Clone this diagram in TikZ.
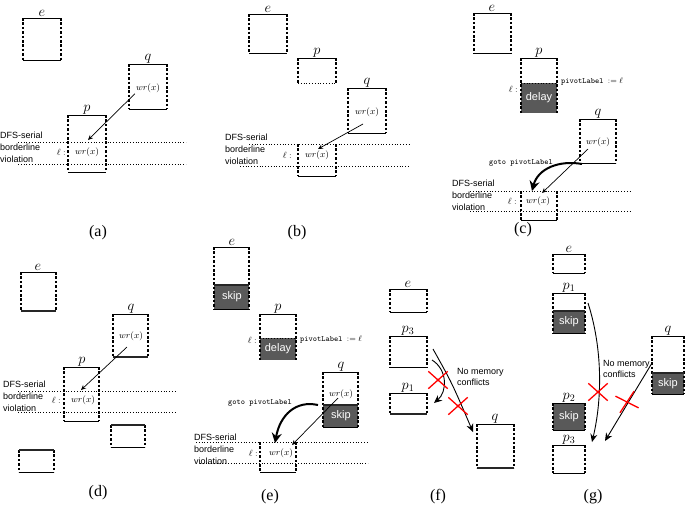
\documentclass[tikz,border=0pt]{standalone}
\usepackage{fontspec}
\setmainfont{Liberation Serif}
\setsansfont{Liberation Sans}
\usetikzlibrary{arrows.meta,shapes.misc}

\begin{document}
\begin{tikzpicture}[x=1pt, y=-1pt,
    rim/.style={line width=0.8pt},
    wall/.style={line width=1.4pt, dash pattern=on 2.6pt off 1.8pt},
    heavy/.style={line width=2pt, black!85},
    border/.style={line width=0.8pt, dash pattern=on 0.8pt off 2pt},
    graybox/.style={fill=black!65},
    proc/.style={font=\Large, inner sep=1pt},
    op/.style={font=\small, inner sep=1pt},
    note/.style={font=\sffamily\fontsize{9}{12}\selectfont, align=left, anchor=west, inner sep=0pt},
    tag/.style={font=\sffamily\fontsize{11}{13}\selectfont, text=white, inner sep=0pt},
    code/.style={font=\ttfamily\footnotesize, inner sep=1pt},
    sublabel/.style={font=\fontsize{16}{18}\selectfont},
    arr/.style={-{Stealth[length=5pt,width=4.5pt]}, line width=0.7pt},
    arrbig/.style={-{Stealth[length=8pt,width=7pt]}, line width=0.9pt},
    jump/.style={-{Stealth[length=10pt,width=10pt]}, line width=2pt},
    nogo/.style={draw=red, cross out, line width=1.3pt, minimum width=18pt, minimum height=16pt, inner sep=0pt}]

    \useasboundingbox (0,0) rectangle (685,504);

    % (a)
    \draw[wall] (23,18) -- (23,60) (61,18) -- (61,60);
    \draw[rim] (23,18) -- (61,18) (23,60) -- (61,60);
    \node[proc, above] (ea) at (42,18) {$e$};
    \draw[wall] (129,64) -- (129,109) (167,64) -- (167,109);
    \draw[rim] (129,64) -- (167,64) (129,109) -- (167,109);
    \node[proc, above] (qa) at (148,64) {$q$};
    \node[op] (wqa) at (148,88) {$wr(x)$};
    \draw[wall] (68,115) -- (68,172) (106,115) -- (106,172);
    \draw[rim] (68,115) -- (106,115) (68,172) -- (106,172);
    \node[proc, above] (pa) at (87,115) {$p$};
    \draw[border] (18,142) -- (186,142) (18,164) -- (186,164);
    \node[note] (va) at (0,147) {DFS-serial\\borderline\\violation};
    \node[op, anchor=east] (la) at (67,152) {$\ell:$};
    \node[op] (wpa) at (87,152) {$wr(x)$};
    \coordinate (ta) at (88,140);
    \draw[arr] (wqa.south west) -- (ta);
    \node[sublabel] (capa) at (98,233) {(a)};

    % (b)
    \draw[wall] (249,14) -- (249,53) (287,14) -- (287,53);
    \draw[rim] (249,14) -- (287,14) (249,53) -- (287,53);
    \node[proc, above] (eb) at (268,14) {$e$};
    \draw[wall] (298,58) -- (298,83) (336,58) -- (336,83);
    \draw[rim] (298,58) -- (336,58);
    \draw[border] (298,83) -- (336,83);
    \node[proc, above] (pb) at (317,58) {$p$};
    \draw[wall] (348,88) -- (348,133) (386,88) -- (386,133);
    \draw[rim] (348,88) -- (386,88) (348,133) -- (386,133);
    \node[proc, above] (qb) at (367,88) {$q$};
    \node[op] (wqb) at (367,112) {$wr(x)$};
    \draw[wall] (298,144) -- (298,176) (336,144) -- (336,176);
    \draw[rim] (298,176) -- (336,176);
    \draw[border] (249,144) -- (410,144) (240,166) -- (410,166);
    \node[note] (vb) at (225,149) {DFS-serial\\borderline\\violation};
    \node[op, anchor=east] (lb) at (293,155) {$\ell:$};
    \node[op] (wpb) at (317,155) {$wr(x)$};
    \coordinate (sb) at (363,124);
    \coordinate (tb) at (318,149);
    \draw[arr] (sb) -- (tb);
    \node[sublabel] (capb) at (297,233) {(b)};

    % (c)
    \draw[wall] (474,13) -- (474,53) (511,13) -- (511,53);
    \draw[rim] (474,13) -- (511,13) (474,53) -- (511,53);
    \node[proc, above] (ec) at (492,13) {$e$};
    \fill[graybox] (521,83) rectangle (557,113);
    \draw[wall] (521,58) -- (521,113) (557,58) -- (557,113);
    \draw[rim] (521,58) -- (557,58);
    \draw[border] (521,83) -- (557,83);
    \node[proc, above] (pc) at (539,58) {$p$};
    \node[tag] (dc) at (539,98) {delay};
    \node[op, anchor=east] (lc) at (519,89) {$\ell:$};
    \node[code, anchor=west] (plc) at (560,82) {pivotLabel $:=\ell$};
    \draw[wall] (580,119) -- (580,163) (616,119) -- (616,163);
    \draw[rim] (580,119) -- (616,119) (580,163) -- (616,163);
    \node[proc, above] (qc) at (598,119) {$q$};
    \node[op] (wqc) at (598,142) {$wr(x)$};
    \node[code] (gc) at (521,163) {goto pivotLabel};
    \coordinate (sc) at (582,164);
    \coordinate (tc) at (532,191);
    \draw[jump] (sc) .. controls (560,160) and (538,168) .. (tc);
    \coordinate (sc2) at (588,149);
    \coordinate (tc2) at (542,193);
    \draw[arr] (sc2) -- (tc2);
    \draw[wall] (521,191) -- (521,220) (557,191) -- (557,220);
    \draw[rim] (521,220) -- (557,220);
    \draw[border] (470,191) -- (630,191) (470,211) -- (630,211);
    \node[note] (vc) at (452,195) {DFS-serial\\borderline\\violation};
    \node[op, anchor=east] (lc2) at (518,201) {$\ell:$};
    \node[op] (wpc) at (538,201) {$wr(x)$};
    \node[sublabel] (capc) at (523,230) {(c)};

    % (d)
    \draw[wall] (21,272) -- (21,311) (56,272) -- (56,311);
    \draw[rim] (21,272) -- (56,272);
    \draw[heavy] (21,311) -- (56,311);
    \node[proc, above] (ed) at (38,272) {$e$};
    \draw[wall] (113,314) -- (113,357) (148,314) -- (148,357);
    \draw[rim] (113,314) -- (148,314);
    \draw[heavy] (113,357) -- (148,357);
    \node[proc, above] (qd) at (131,314) {$q$};
    \node[op] (wqd) at (131,336) {$wr(x)$};
    \draw[wall] (64,367) -- (64,421) (99,367) -- (99,421);
    \draw[rim] (64,367) -- (99,367) (64,421) -- (99,421);
    \node[proc, above] (pd) at (82,367) {$p$};
    \draw[border] (18,391) -- (176,391) (18,412) -- (176,412);
    \node[note] (vd) at (3,396) {DFS-serial\\borderline\\violation};
    \node[op, anchor=east] (ld) at (62,400) {$\ell:$};
    \node[op] (wpd) at (83,400) {$wr(x)$};
    \coordinate (sd) at (127,347);
    \coordinate (td) at (81,390);
    \draw[arr] (sd) -- (td);
    \draw[wall] (111,425) -- (111,447) (145,425) -- (145,447);
    \draw[heavy] (111,425) -- (145,425);
    \draw[rim] (111,447) -- (145,447);
    \draw[wall] (19,450) -- (19,472) (54,450) -- (54,472);
    \draw[heavy] (19,450) -- (54,450);
    \draw[rim] (19,472) -- (54,472);
    \node[sublabel] (capd) at (98,493) {(d)};

    % (e)
    \fill[graybox] (214,285) rectangle (249,309);
    \draw[wall] (214,247) -- (214,309) (249,247) -- (249,309);
    \draw[rim] (214,247) -- (249,247) (214,309) -- (249,309);
    \draw[heavy] (214,285) -- (249,285);
    \node[proc, above] (ee) at (232,247) {$e$};
    \node[tag] (ske) at (232,297) {skip};
    \fill[graybox] (260,338) rectangle (296,360);
    \draw[wall] (260,314) -- (260,360) (296,314) -- (296,360);
    \draw[rim] (260,314) -- (296,314);
    \draw[border] (260,338) -- (296,338);
    \node[proc, above] (pe) at (278,314) {$p$};
    \node[tag] (de) at (278,349) {delay};
    \node[op, anchor=east] (le) at (258,340) {$\ell:$};
    \node[code, anchor=west] (ple) at (299,340) {pivotLabel $:=\ell$};
    \fill[graybox] (323,405) rectangle (358,427);
    \draw[wall] (323,372) -- (323,427) (358,372) -- (358,427);
    \draw[rim] (323,372) -- (358,372) (323,427) -- (358,427);
    \draw[heavy] (323,405) -- (358,405);
    \node[proc, above] (qe) at (341,372) {$q$};
    \node[op] (wqe) at (341,394) {$wr(x)$};
    \node[tag] (ske2) at (341,416) {skip};
    \node[code] (ge) at (260,403) {goto pivotLabel};
    \coordinate (se) at (318,405);
    \coordinate (te) at (275,443);
    \draw[jump] (se) .. controls (296,400) and (280,415) .. (te);
    \coordinate (se2) at (338,398);
    \coordinate (te2) at (292,445);
    \draw[arr] (se2) -- (te2);
    \draw[wall] (260,442) -- (260,472) (296,442) -- (296,472);
    \draw[rim] (260,472) -- (296,472);
    \draw[border] (196,442) -- (368,442) (200,463) -- (368,463);
    \node[note] (ve) at (194,449) {DFS-serial\\borderline\\violation};
    \node[op, anchor=east] (le2) at (259,453) {$\ell:$};
    \node[op] (wpe) at (281,453) {$wr(x)$};
    \node[sublabel] (cape) at (270,497) {(e)};

    % (f)
    \draw[wall] (390,289) -- (390,312) (427,289) -- (427,312);
    \draw[rim] (390,289) -- (427,289) (390,312) -- (427,312);
    \node[proc, above] (ef) at (408,289) {$e$};
    \draw[wall] (390,336) -- (390,367) (427,336) -- (427,367);
    \draw[rim] (390,336) -- (427,336) (390,367) -- (427,367);
    \node[proc, above] (p3f) at (408,336) {$p_3$};
    \draw[wall] (390,393) -- (390,414) (427,393) -- (427,414);
    \draw[rim] (390,393) -- (427,393);
    \draw[heavy] (390,414) -- (427,414);
    \node[proc, above] (p1f) at (408,393) {$p_1$};
    \draw[wall] (477,424) -- (477,468) (514,424) -- (514,468);
    \draw[rim] (477,424) -- (514,424);
    \draw[heavy] (477,468) -- (514,468);
    \node[proc, above] (qf) at (495,424) {$q$};
    \coordinate (sf) at (433,349);
    \coordinate (tf) at (473,432);
    \draw[arrbig] (sf) .. controls (452,383) .. (tf);
    \coordinate (sf2) at (432,360);
    \coordinate (tf2) at (434,403);
    \draw[arrbig] (sf2) .. controls (448,370) and (447,392) .. (tf2);
    \node[nogo] (xf) at (438,380) {};
    \node[nogo] (xf2) at (458,406) {};
    \node[note, font=\sffamily\fontsize{9}{10.5}\selectfont] (nf) at (457,377) {No memory\\conflicts};
    \node[sublabel] (capf) at (438,497) {(f)};

    % (g)
    \draw[wall] (553,254) -- (553,273) (585,254) -- (585,273);
    \draw[rim] (553,254) -- (585,254) (553,273) -- (585,273);
    \node[proc, above] (eg) at (569,254) {$e$};
    \fill[graybox] (553,311) rectangle (585,333);
    \draw[wall] (553,293) -- (553,333) (585,293) -- (585,333);
    \draw[rim] (553,293) -- (585,293) (553,333) -- (585,333);
    \draw[heavy] (553,311) -- (585,311);
    \node[proc, above] (p1g) at (569,293) {$p_1$};
    \node[tag] (skg) at (569,322) {skip};
    \fill[graybox] (652,373) rectangle (684,394);
    \draw[wall] (652,336) -- (652,394) (684,336) -- (684,394);
    \draw[rim] (652,336) -- (684,336) (652,394) -- (684,394);
    \draw[heavy] (652,373) -- (684,373);
    \node[proc, above] (qg) at (668,336) {$q$};
    \node[tag] (skg2) at (668,384) {skip};
    \fill[graybox] (553,403) rectangle (585,430);
    \draw[wall] (553,403) -- (553,430) (585,403) -- (585,430);
    \draw[rim] (553,403) -- (585,403) (553,430) -- (585,430);
    \node[proc, above] (p2g) at (569,403) {$p_2$};
    \node[tag] (skg3) at (569,417) {skip};
    \draw[wall] (553,445) -- (553,473) (585,445) -- (585,473);
    \draw[rim] (553,445) -- (585,445) (553,473) -- (585,473);
    \node[proc, above] (p3g) at (569,445) {$p_3$};
    \coordinate (sg) at (588,303);
    \coordinate (tg) at (592,442);
    \draw[arrbig] (sg) .. controls (603,350) and (602,400) .. (tg);
    \coordinate (sg2) at (652,363);
    \coordinate (tg2) at (605,441);
    \draw[arrbig] (sg2) -- (tg2);
    \node[nogo] (xg) at (598,392) {};
    \node[nogo, rotate=15] (xg2) at (627,402) {};
    \node[note, font=\sffamily\fontsize{9}{10.5}\selectfont] (ng) at (603,369) {No memory\\conflicts};
    \node[sublabel] (capg) at (593,497) {(g)};
\end{tikzpicture}
\end{document}
